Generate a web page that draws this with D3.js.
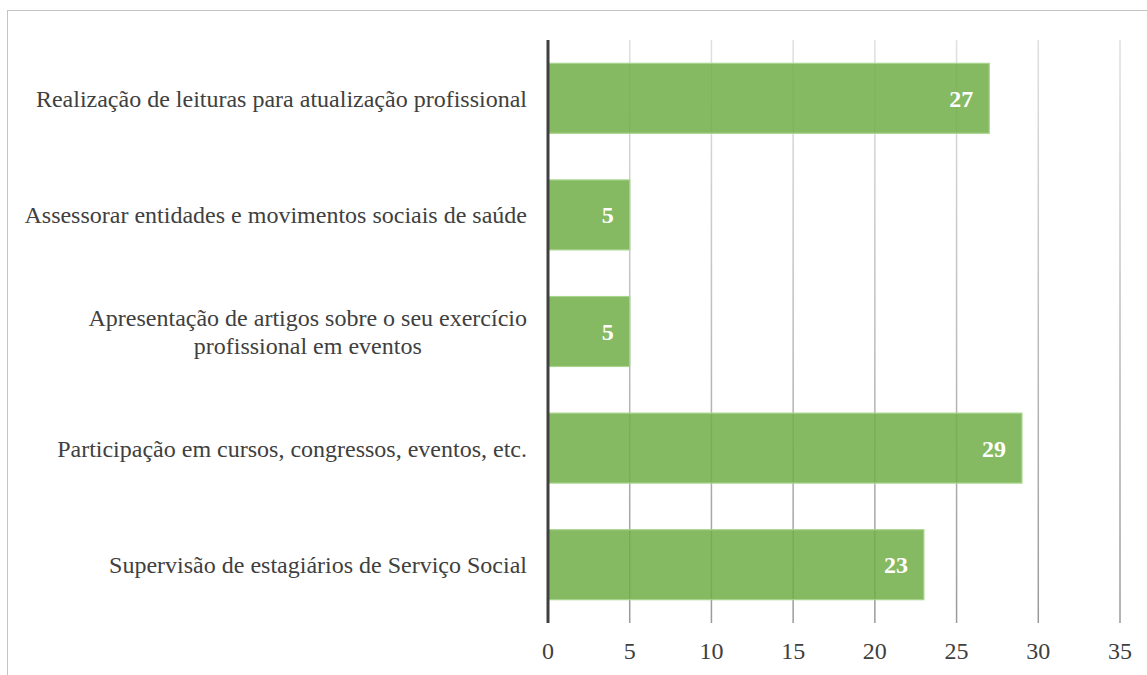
<!DOCTYPE html>
<html>
<head>
<meta charset="utf-8">
<script src="https://cdn.jsdelivr.net/npm/d3@7"></script>
<style>
  body { margin: 0; background: #fff; }
  text { font-family: "Liberation Serif", "Times New Roman", serif; }
</style>
</head>
<body>
<div id="bar-chart"></div>
<script>
// data
var categories = [
  "Realização de leituras para atualização profissional",
  "Assessorar entidades e movimentos sociais de saúde",
  "Apresentação de artigos sobre o seu exercício|profissional em eventos",
  "Participação em cursos, congressos, eventos, etc.",
  "Supervisão de estagiários de Serviço Social"
];
var values = [27, 5, 5, 29, 23];
var ticks = [0, 5, 10, 15, 20, 25, 30, 35];

var W = 1147, H = 675;
var margin = {top: 40, left: 548, right: 27, bottom: 52};

var svg = d3.select("#bar-chart").append("svg")
    .attr("width", W)
    .attr("height", H);

// chart border
svg.append("rect")
  .attr("x", 7.5).attr("y", 10.5)
  .attr("width", W + 10).attr("height", H + 10)
  .attr("fill", "none")
  .attr("stroke", "#c4c4c4")
  .attr("stroke-width", 1);

var x = d3.scaleLinear()
  .domain([0, 35])
  .range([margin.left, W - margin.right]);

var y = d3.scaleBand()
  .domain(categories)
  .range([margin.top, H - margin.bottom])
  .paddingInner(0.4)
  .paddingOuter(0.2);

// gridline gradient (lighter at top)
var grad = svg.append("defs").append("linearGradient")
  .attr("id", "gridGrad")
  .attr("gradientUnits", "userSpaceOnUse")
  .attr("x1", 0).attr("y1", margin.top)
  .attr("x2", 0).attr("y2", H - margin.bottom);
grad.append("stop").attr("offset", "0%").attr("stop-color", "#e0e0e0");
grad.append("stop").attr("offset", "100%").attr("stop-color", "#9a9a9a");

svg.append("g")
  .selectAll("rect")
  .data(ticks.slice(1))
  .enter().append("rect")
    .attr("x", function(d) { return x(d) - 0.75; })
    .attr("y", margin.top)
    .attr("width", 1.5)
    .attr("height", H - margin.bottom - margin.top)
    .attr("fill", "url(#gridGrad)");

// bars
svg.append("g")
  .selectAll("rect")
  .data(values)
  .enter().append("rect")
    .attr("x", x(0))
    .attr("y", function(d, i) { return y(categories[i]); })
    .attr("width", function(d) { return x(d) - x(0); })
    .attr("height", y.bandwidth())
    .attr("fill", "#70ad47")
    .attr("fill-opacity", 0.85)
    .attr("stroke", "#a8d48c")
    .attr("stroke-width", 1.2);

// value labels
svg.append("g")
  .selectAll("text")
  .data(values)
  .enter().append("text")
    .attr("x", function(d) { return x(d) - 16; })
    .attr("y", function(d, i) { return y(categories[i]) + y.bandwidth() / 2; })
    .attr("dy", "0.35em")
    .attr("text-anchor", "end")
    .attr("font-size", "24px")
    .attr("font-weight", "bold")
    .attr("fill", "#fff")
    .text(function(d) { return d; });

// y axis line
svg.append("line")
  .attr("x1", x(0)).attr("x2", x(0))
  .attr("y1", margin.top).attr("y2", H - margin.bottom)
  .attr("stroke", "#404040")
  .attr("stroke-width", 3);

// category labels (multi-line are centered to each other, right aligned as a block)
var labelRight = x(0) - 21;
var lineH = 28;
categories.forEach(function(c) {
  var lines = c.split("|");
  var t = svg.append("text")
    .attr("font-size", "24px")
    .attr("fill", "#404040");
  var cy = y(c) + y.bandwidth() / 2;
  var spans = lines.map(function(l, j) {
    return t.append("tspan")
      .attr("y", cy + (j - (lines.length - 1) / 2) * lineH)
      .attr("dy", "0.35em")
      .text(l);
  });
  var maxW = d3.max(spans, function(s) { return s.node().getComputedTextLength(); });
  spans.forEach(function(s) {
    s.attr("x", labelRight - maxW / 2).attr("text-anchor", "middle");
  });
});

// x tick labels
svg.append("g")
  .selectAll("text")
  .data(ticks)
  .enter().append("text")
    .attr("x", function(d) { return x(d); })
    .attr("y", 659)
    .attr("text-anchor", "middle")
    .attr("font-size", "24px")
    .attr("fill", "#404040")
    .text(function(d) { return d; });
</script>
</body>
</html>
